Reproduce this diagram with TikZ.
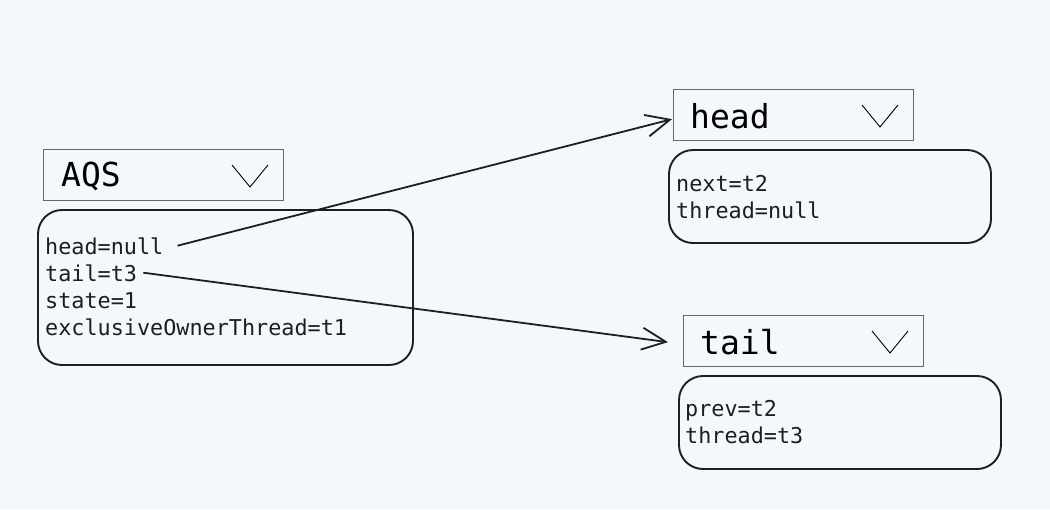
\documentclass[tikz,border=0pt]{standalone}
\usepackage{fontspec}
\setmonofont{DejaVu Sans Mono}
\usetikzlibrary{arrows.meta}
\definecolor{bg}{HTML}{F4F8FC}
\definecolor{titlegray}{HTML}{666666}
\definecolor{ink}{HTML}{1E1E1E}
\begin{document}
\begin{tikzpicture}[x=1pt,y=-1pt,
  titlebox/.style={draw=titlegray,line width=1.3pt,minimum width=240pt,minimum height=51pt,anchor=north west,inner sep=0pt},
  bodybox/.style={draw=ink,line width=1.9pt,rounded corners=24pt,anchor=north west,inner sep=0pt},
  titletext/.style={font=\ttfamily\fontsize{33}{33}\selectfont,anchor=west,inner sep=0pt,text=black},
  bodytext/.style={font=\ttfamily\fontsize{21.8}{27}\selectfont,anchor=north west,inner sep=0pt,align=left,text=ink},
  chev/.style={line width=0.9pt,draw=black},
  link/.style={line width=1.8pt,draw=ink,-{Straight Barb[length=24pt,width=22pt,line width=1.8pt]}}]
\fill[bg] (0,0) rectangle (1050,509);
\useasboundingbox (0,0) rectangle (1050,509);
% AQS
\node[titlebox] (aqst) at (43,149) {};
\node[titletext] (aqsl) at (61,176) {AQS};
\draw[chev] (232,165) -- (250,187) -- (268,165);
\draw[bodybox] (38,210) rectangle (413,365);
\node[bodytext] (hn) at (45,238) {head=null};
\node[bodytext] (tl) at (45,265) {tail=t3};
\node[bodytext] (aqsrest) at (45,292) {state=1\\exclusiveOwnerThread=t1};
% head
\node[titlebox] (headt) at (673,89) {};
\node[titletext] (headl) at (690,116) {head};
\draw[chev] (862,105) -- (880,127) -- (898,105);
\draw[bodybox] (669,150) rectangle (991,243);
\node[bodytext] (headb) at (676,175) {next=t2\\thread=null};
% tail
\node[titlebox] (tailt) at (683,315) {};
\node[titletext] (taill) at (700,342) {tail};
\draw[chev] (872,331) -- (890,353) -- (908,331);
\draw[bodybox] (679,376) rectangle (1001,469);
\node[bodytext] (tailb) at (685,400) {prev=t2\\thread=t3};
% links
\draw[link] ([xshift=14pt,yshift=1pt]hn.east) -- ([xshift=-1pt,yshift=-4pt]headt.west);
\draw[link] ([xshift=6pt,yshift=1pt]tl.east) -- ([xshift=-15pt,yshift=-1pt]tailt.west);
\end{tikzpicture}
\end{document}
